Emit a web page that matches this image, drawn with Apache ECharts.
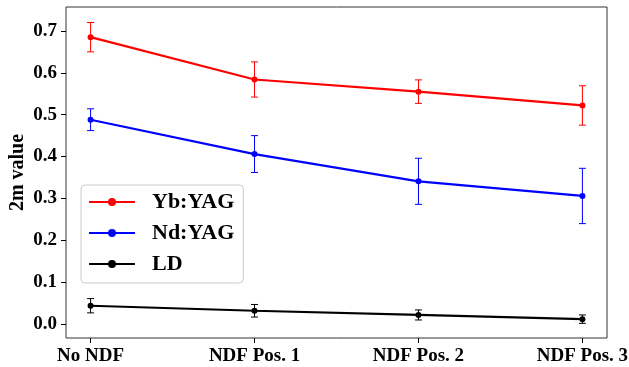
<!DOCTYPE html>
<html>
	<head>
		<meta charset="UTF-8">
		<title>2m value</title>
		<script src="https://cdn.jsdelivr.net/npm/echarts@6/dist/echarts.min.js"></script>
		<style>
			html, body { margin: 0; padding: 0; background: #fff; }
			#chart { width: 629px; height: 367px; }
		</style>
	</head>
	<body>
		<div id="chart"></div>
		<script>
			// data
			var categories = ['No NDF', 'NDF Pos. 1', 'NDF Pos. 2', 'NDF Pos. 3'];
			var ybYag = [0.685, 0.584, 0.555, 0.522];
			var ybErr = [0.035, 0.042, 0.028, 0.047];
			var ndYag = [0.488, 0.406, 0.341, 0.306];
			var ndErr = [0.026, 0.044, 0.055, 0.066];
			var ld = [0.044, 0.032, 0.022, 0.012];
			var ldErr = [0.017, 0.015, 0.012, 0.010];
			var yTicks = [0, 0.1, 0.2, 0.3, 0.4, 0.5, 0.6, 0.7];
			var xTicks = [0, 1, 2, 3];

			var font = 'Liberation Serif';

			function points(vals) {
				var out = [];
				for (var i = 0; i < vals.length; i++) out.push([i, vals[i]]);
				return out;
			}
			function errData(vals, errs) {
				var out = [];
				for (var i = 0; i < vals.length; i++) out.push([i, vals[i] - errs[i], vals[i] + errs[i]]);
				return out;
			}
			function errSeries(name, vals, errs, color) {
				return {
					type: 'custom',
					name: name + ' err',
					data: errData(vals, errs),
					silent: true,
					z: 3,
					renderItem: function(params, api) {
						var lo = api.coord([api.value(0), api.value(1)]);
						var hi = api.coord([api.value(0), api.value(2)]);
						var cap = 3.5;
						var st = { stroke: color, lineWidth: 1 };
						return {
							type: 'group',
							children: [
								{ type: 'line', shape: { x1: lo[0], y1: lo[1], x2: hi[0], y2: hi[1] }, style: st },
								{ type: 'line', shape: { x1: lo[0] - cap, y1: lo[1], x2: lo[0] + cap, y2: lo[1] }, style: st },
								{ type: 'line', shape: { x1: hi[0] - cap, y1: hi[1], x2: hi[0] + cap, y2: hi[1] }, style: st }
							]
						};
					}
				};
			}
			function lineSeries(name, vals, color) {
				return {
					type: 'line',
					name: name,
					data: points(vals),
					symbol: 'circle',
					symbolSize: 6,
					lineStyle: { color: color, width: 2.2 },
					itemStyle: { color: color },
					z: 4
				};
			}

			var myChart = echarts.init(document.getElementById('chart'));
			var option = {
				animation: false,
				grid: {
					left: 66, top: 7, right: 22, bottom: 29,
					outerBoundsMode: 'none',
					containLabel: false,
					show: true, borderColor: '#333', borderWidth: 1, backgroundColor: 'transparent'
				},
				xAxis: {
					type: 'value',
					min: -0.15,
					max: 3.15,
					axisLine: { show: false, onZero: false },
					splitLine: { show: false },
					axisTick: { show: true, customValues: xTicks, length: 5, lineStyle: { color: '#000' } },
					axisLabel: {
						customValues: xTicks,
						margin: 9,
						color: '#000',
						fontFamily: font,
						fontWeight: 'bold',
						fontSize: 19,
						formatter: function(v) { return categories[Math.round(v)]; }
					}
				},
				yAxis: {
					type: 'value',
					min: -0.033,
					max: 0.757,
					name: '2m value',
					nameLocation: 'middle',
					nameRotate: 90,
					nameGap: 38,
					nameMoveOverlap: false,
					nameTextStyle: { color: '#000', fontFamily: font, fontWeight: 'bold', fontSize: 20 },
					axisLine: { show: false, onZero: false },
					splitLine: { show: false },
					axisTick: { show: true, customValues: yTicks, length: 5, lineStyle: { color: '#000' } },
					axisLabel: {
						customValues: yTicks,
						margin: 9,
						color: '#000',
						fontFamily: font,
						fontWeight: 'bold',
						fontSize: 19,
						formatter: function(v) { return v.toFixed(1); }
					}
				},
				legend: {
					data: ['Yb:YAG', 'Nd:YAG', 'LD'],
					orient: 'vertical',
					left: 81,
					top: 185,
					padding: [6, 9, 8, 7],
					itemWidth: 46,
					itemHeight: 10,
					itemGap: 9,
					backgroundColor: 'rgba(255,255,255,0.8)',
					borderColor: '#ccc',
					borderWidth: 1,
					borderRadius: 4,
					textStyle: { color: '#000', fontFamily: font, fontWeight: 'bold', fontSize: 22, padding: [0, 0, 0, 12] }
				},
				series: [
					errSeries('Yb:YAG', ybYag, ybErr, '#ff0000'),
					errSeries('Nd:YAG', ndYag, ndErr, '#0000ff'),
					errSeries('LD', ld, ldErr, '#000000'),
					lineSeries('Yb:YAG', ybYag, '#ff0000'),
					lineSeries('Nd:YAG', ndYag, '#0000ff'),
					lineSeries('LD', ld, '#000000')
				]
			};
			myChart.setOption(option);
		</script>
	</body>
</html>
